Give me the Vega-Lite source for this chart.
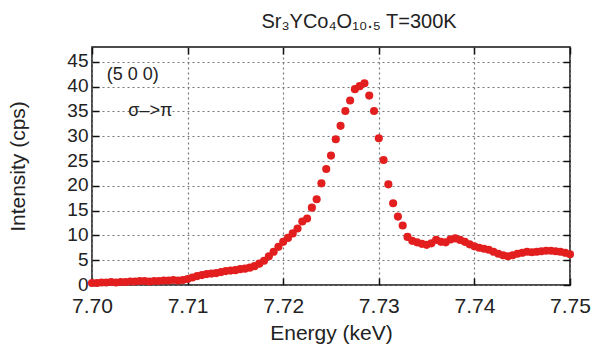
{
  "$schema": "https://vega.github.io/schema/vega-lite/v6.json",
  "autosize": "none",
  "padding": {"left": 92, "top": 47, "right": 28, "bottom": 69},
  "width": 478,
  "height": 238,
  "background": "white",
  "title": {"text": "Sr₃YCo₄O₁₀.₅ T=300K", "font": "Liberation Sans", "fontSize": 20, "fontWeight": "normal", "color": "#222", "offset": 14, "anchor": "middle", "dx": 28},
  "config": {
    "view": {"stroke": "#111", "strokeWidth": 1.5},
    "axis": {"labelFont": "Liberation Sans", "titleFont": "Liberation Sans", "labelColor": "#222", "titleColor": "#222", "titleFontWeight": "normal", "domain": false, "tickColor": "#111", "tickWidth": 1.5, "labelFlush": false}
  },
  "datasets": {
    "scan": [
      {"E": 7.7000, "I": 0.4}, {"E": 7.7005, "I": 0.4}, {"E": 7.7010, "I": 0.5}, {"E": 7.7015, "I": 0.5},
      {"E": 7.7020, "I": 0.6}, {"E": 7.7025, "I": 0.5}, {"E": 7.7030, "I": 0.6}, {"E": 7.7035, "I": 0.6},
      {"E": 7.7040, "I": 0.7}, {"E": 7.7045, "I": 0.7}, {"E": 7.7050, "I": 0.8}, {"E": 7.7055, "I": 0.8},
      {"E": 7.7060, "I": 0.7}, {"E": 7.7065, "I": 0.8}, {"E": 7.7070, "I": 0.8}, {"E": 7.7075, "I": 0.9},
      {"E": 7.7080, "I": 0.9}, {"E": 7.7085, "I": 1.0}, {"E": 7.7090, "I": 0.9}, {"E": 7.7095, "I": 1.0},
      {"E": 7.7100, "I": 1.2}, {"E": 7.7105, "I": 1.5}, {"E": 7.7110, "I": 1.8}, {"E": 7.7115, "I": 2.0},
      {"E": 7.7120, "I": 2.2}, {"E": 7.7125, "I": 2.3}, {"E": 7.7130, "I": 2.4}, {"E": 7.7135, "I": 2.6},
      {"E": 7.7140, "I": 2.8}, {"E": 7.7145, "I": 2.9}, {"E": 7.7150, "I": 3.0}, {"E": 7.7155, "I": 3.2},
      {"E": 7.7160, "I": 3.3}, {"E": 7.7165, "I": 3.5}, {"E": 7.7170, "I": 3.8}, {"E": 7.7175, "I": 4.3},
      {"E": 7.7180, "I": 4.9}, {"E": 7.7185, "I": 5.8}, {"E": 7.7190, "I": 6.7}, {"E": 7.7195, "I": 7.7},
      {"E": 7.7200, "I": 8.7}, {"E": 7.7205, "I": 9.5}, {"E": 7.7210, "I": 10.4}, {"E": 7.7215, "I": 11.4},
      {"E": 7.7220, "I": 12.8}, {"E": 7.7225, "I": 13.4}, {"E": 7.7230, "I": 15.6}, {"E": 7.7235, "I": 17.3},
      {"E": 7.7240, "I": 20.5}, {"E": 7.7245, "I": 23.4}, {"E": 7.7250, "I": 26.1}, {"E": 7.7255, "I": 29.4},
      {"E": 7.7260, "I": 32.1}, {"E": 7.7265, "I": 35.1}, {"E": 7.7270, "I": 37.2}, {"E": 7.7275, "I": 39.5},
      {"E": 7.7280, "I": 40.1}, {"E": 7.7285, "I": 40.7}, {"E": 7.7290, "I": 38.2}, {"E": 7.7295, "I": 35.1},
      {"E": 7.7300, "I": 29.6}, {"E": 7.7305, "I": 25.2}, {"E": 7.7310, "I": 20.3}, {"E": 7.7315, "I": 16.5},
      {"E": 7.7320, "I": 13.8}, {"E": 7.7325, "I": 12.0}, {"E": 7.7330, "I": 9.7}, {"E": 7.7335, "I": 8.9},
      {"E": 7.7340, "I": 8.6}, {"E": 7.7345, "I": 8.3}, {"E": 7.7350, "I": 8.1}, {"E": 7.7355, "I": 8.4},
      {"E": 7.7360, "I": 9.1}, {"E": 7.7365, "I": 8.7}, {"E": 7.7370, "I": 8.6}, {"E": 7.7375, "I": 9.2},
      {"E": 7.7380, "I": 9.4}, {"E": 7.7385, "I": 9.1}, {"E": 7.7390, "I": 8.7}, {"E": 7.7395, "I": 8.2},
      {"E": 7.7400, "I": 7.8}, {"E": 7.7405, "I": 7.5}, {"E": 7.7410, "I": 7.3}, {"E": 7.7415, "I": 7.1},
      {"E": 7.7420, "I": 6.7}, {"E": 7.7425, "I": 6.3}, {"E": 7.7430, "I": 6.0}, {"E": 7.7435, "I": 5.8},
      {"E": 7.7440, "I": 6.0}, {"E": 7.7445, "I": 6.3}, {"E": 7.7450, "I": 6.5}, {"E": 7.7455, "I": 6.7},
      {"E": 7.7460, "I": 6.6}, {"E": 7.7465, "I": 6.7}, {"E": 7.7470, "I": 6.8}, {"E": 7.7475, "I": 6.9},
      {"E": 7.7480, "I": 6.9}, {"E": 7.7485, "I": 6.8}, {"E": 7.7490, "I": 6.7}, {"E": 7.7495, "I": 6.5},
      {"E": 7.7500, "I": 6.2}
    ],
    "notes": [
      {"E": 7.70155, "I": 42.3, "label": "(5 0 0)"},
      {"E": 7.7038, "I": 35.1, "label": "σ–>π"}
    ]
  },
  "layer": [
    {
      "data": {"name": "scan"},
      "mark": {"type": "circle", "size": 66, "color": "#e31e1e", "opacity": 1},
      "encoding": {
        "x": {"field": "E", "type": "quantitative",
              "scale": {"domain": [7.70, 7.75], "nice": false, "zero": false},
              "axis": {"title": "Energy (keV)", "orient": "bottom", "values": [7.70, 7.71, 7.72, 7.73, 7.74, 7.75], "format": ".2f",
                       "labelFontSize": 21, "titleFontSize": 21, "tickSize": -7, "labelPadding": 17, "titlePadding": 6,
                       "grid": true, "gridColor": "#777", "gridDash": [2, 3], "gridWidth": 1.2}},
        "y": {"field": "I", "type": "quantitative",
              "scale": {"domain": [0, 48], "nice": false},
              "axis": {"title": "Intensity (cps)", "orient": "left", "values": [0, 5, 10, 15, 20, 25, 30, 35, 40, 45],
                       "labelFontSize": 19, "titleFontSize": 21, "tickSize": -7, "labelPadding": 11, "titlePadding": 38, "labelOffset": -1,
                       "grid": true, "gridColor": "#777", "gridDash": [2, 3], "gridWidth": 1.2}}
      }
    },
    {
      "data": {"name": "notes"},
      "mark": {"type": "text", "align": "left", "baseline": "middle", "font": "Liberation Sans", "fontSize": 18, "color": "#222"},
      "encoding": {
        "x": {"field": "E", "type": "quantitative",
              "axis": {"orient": "top", "title": null, "labels": false, "grid": false, "values": [7.70, 7.71, 7.72, 7.73, 7.74, 7.75], "tickSize": -7}},
        "y": {"field": "I", "type": "quantitative",
              "axis": {"orient": "right", "title": null, "labels": false, "grid": false, "values": [0, 5, 10, 15, 20, 25, 30, 35, 40, 45], "tickSize": -7}},
        "text": {"field": "label"}
      }
    }
  ],
  "resolve": {"axis": {"x": "independent", "y": "independent"}}
}
